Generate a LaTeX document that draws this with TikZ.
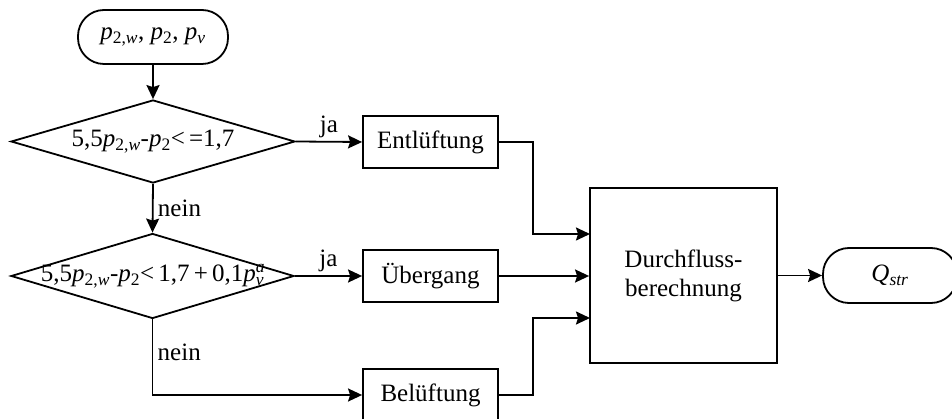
\documentclass[tikz,border=0pt]{standalone}
\usepackage{fontspec}
\setmainfont{Liberation Serif}
\usetikzlibrary{arrows.meta}
\usetikzlibrary{shapes.geometric}

\begin{document}
\begin{tikzpicture}[x=1pt,y=-1pt,
  line width=1.8pt,
  every node/.style={font=\fontsize{25}{29}\selectfont},
  arr/.style={-{Stealth[length=14pt,width=13pt,inset=2pt]}},
  term/.style={draw,rectangle,rounded corners=26pt,inner sep=0pt},
  proc/.style={draw,rectangle,inner sep=0pt,minimum width=135pt,minimum height=52pt},
  cond/.style={draw,diamond,inner sep=0pt}]

\useasboundingbox (0,0) rectangle (952,419);

% start / end
\node[term,minimum width=150pt,minimum height=54pt] (start) at (153,37) {\textit{p}\textsubscript{2,\textit{w}}, \textit{p}\textsubscript{2}, \textit{p}\textsubscript{\textit{v}}};
\node[term,minimum width=134pt,minimum height=55pt] (qstr) at (890,275.5) {\textit{Q}\textsubscript{\textit{str}}};

% decisions
\node[cond,minimum width=284pt,minimum height=83pt] (d1) at (153,141.5) {};
\node at (d1) {5,5\textit{p}\textsubscript{2,\textit{w}}-\textit{p}\textsubscript{2}<\,=1,7};
\node[cond,minimum width=283pt,minimum height=85pt] (d2) at (152.5,276) {};
\node at (d2) {5,5\textit{p}\textsubscript{2,\textit{w}}-\textit{p}\textsubscript{2}<\,1,7\,+\,0,1\textit{p}\rlap{\textsuperscript{\textit{a}}}\textsubscript{\textit{v}}};

% processes
\node[proc] (ent) at (430.5,142) {Entlüftung};
\node[proc] (ueb) at (430.5,276) {Übergang};
\node[proc] (bel) at (430.5,395) {Belüftung};
\node[draw,rectangle,minimum width=187pt,minimum height=175pt,align=center] (dfb) at (683.5,275.5) {Durchfluss-\\berechnung};

\coordinate (in1) at (590,234);
\coordinate (in3) at (590,318);

\draw[arr] (start) -- (d1);
\draw[arr] (d1.east) -- node[above]{ja} (ent.west);
\draw[arr] (d1.south) -- node[right,xshift=1pt]{nein} (d2.north);
\draw[arr] (d2.east) -- node[above]{ja} (ueb.west);
\draw[arr] (d2.south) |- node[pos=0.22,right,xshift=1pt]{nein} (bel.west);

\draw[arr] (ent.east) -- ++(34,0) |- (in1);
\draw[arr] (ueb.east) -- (ueb.east -| dfb.west);
\draw[arr] (bel.east) -- ++(34,0) |- (in3);
\draw[arr] (dfb.east) -- (qstr.west);

\end{tikzpicture}
\end{document}
